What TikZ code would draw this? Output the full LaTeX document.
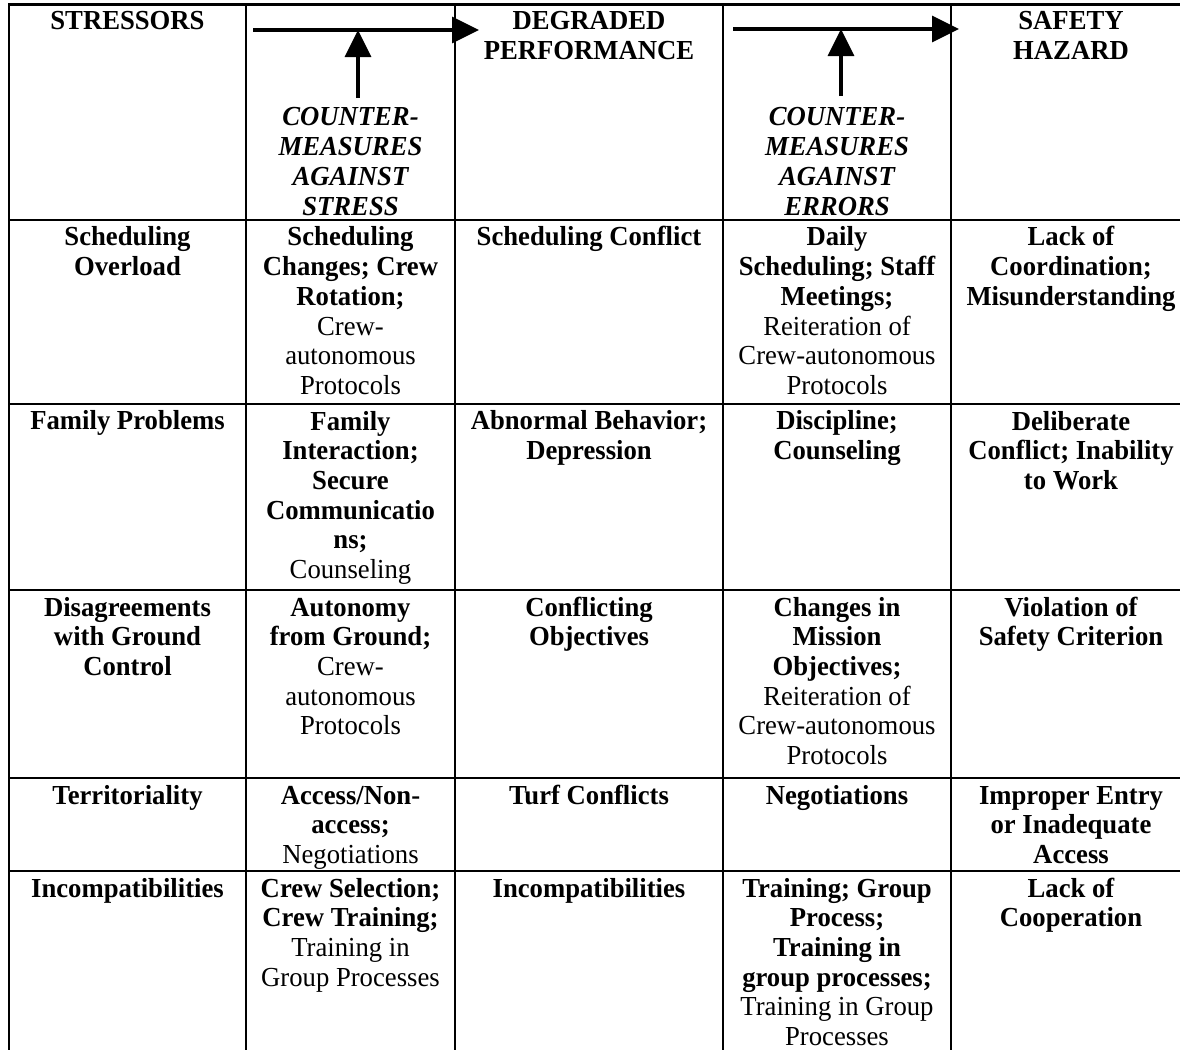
\documentclass[tikz,border=0pt]{standalone}
\usepackage{fontspec}
\setmainfont[FakeStretch=0.97]{Liberation Serif}
\usetikzlibrary{arrows.meta}
% a line set in the regular weight inside a bold cell
\newcommand{\regl}[1]{{\mdseries #1}}
\begin{document}
\begin{tikzpicture}[x=1pt,y=-1pt,
  rule/.style={line width=2pt},
  cell/.style={anchor=north, align=center, inner sep=0pt,
    font=\fontsize{27.5}{29.7}\selectfont\bfseries},
  hdr/.style={cell, font=\fontsize{27.5}{29.7}\selectfont\bfseries\itshape},
  flow/.style={line width=3.5pt, -{Triangle[length=27pt,width=26pt]}},
]
\useasboundingbox (0,0) rectangle (1180,1050);

% table rules
\foreach \x in {9,246,455,723,951}
  \draw[rule] (\x,3) -- (\x,1050);
\draw[line width=3pt] (8,4) -- (1180,4);
\foreach \y in {220,404,590,778,871}
  \draw[rule] (8,\y) -- (1180,\y);

% header row
\node[cell] (h1) at (127.5,8.5) {\strut STRESSORS};
\node[cell] (h3) at (589,8.5) {\strut DEGRADED\\PERFORMANCE};
\node[cell] (h5) at (1071,8.5) {\strut SAFETY\\HAZARD};
\node[hdr] (cm1) at (350.5,105) {\strut COUNTER-\\MEASURES\\AGAINST\\STRESS};
\node[hdr] (cm2) at (837,105) {\strut COUNTER-\\MEASURES\\AGAINST\\ERRORS};

% flow arrows
\coordinate (a1s) at (253,30);
\coordinate (a1e) at (479,30);
\coordinate (v1s) at (358,98);
\coordinate (a2s) at (733,29);
\coordinate (a2e) at (959,29);
\coordinate (v2s) at (841,96);
\draw[flow] (a1s) -- (a1e);
\draw[flow] (v1s) -- (v1s |- a1s);
\draw[flow] (a2s) -- (a2e);
\draw[flow] (v2s) -- (v2s |- a2s);

% row 1
\node[cell] (r1c1) at (127.5,225) {\strut Scheduling\\Overload};
\node[cell] (r1c2) at (350.5,225) {\strut Scheduling\\Changes; Crew\\Rotation;\\\regl{Crew-}\\\regl{autonomous}\\\regl{Protocols}};
\node[cell] (r1c3) at (589,225) {\strut Scheduling Conflict};
\node[cell] (r1c4) at (837,225) {\strut Daily\\Scheduling; Staff\\Meetings;\\\regl{Reiteration of}\\\regl{Crew-autonomous}\\\regl{Protocols}};
\node[cell] (r1c5) at (1071,225) {\strut Lack of\\Coordination;\\Misunderstanding};

% row 2
\node[cell] (r2c1) at (127.5,409) {\strut Family Problems};
\node[cell] (r2c2) at (350.5,409) {\strut Family\\Interaction;\\Secure\\Communicatio\\ns;\\\regl{Counseling}};
\node[cell] (r2c3) at (589,409) {\strut Abnormal Behavior;\\Depression};
\node[cell] (r2c4) at (837,409) {\strut Discipline;\\Counseling};
\node[cell] (r2c5) at (1071,409) {\strut Deliberate\\Conflict; Inability\\to Work};

% row 3
\node[cell] (r3c1) at (127.5,595) {\strut Disagreements\\with Ground\\Control};
\node[cell] (r3c2) at (350.5,595) {\strut Autonomy\\from Ground;\\\regl{Crew-}\\\regl{autonomous}\\\regl{Protocols}};
\node[cell] (r3c3) at (589,595) {\strut Conflicting\\Objectives};
\node[cell] (r3c4) at (837,595) {\strut Changes in\\Mission\\Objectives;\\\regl{Reiteration of}\\\regl{Crew-autonomous}\\\regl{Protocols}};
\node[cell] (r3c5) at (1071,595) {\strut Violation of\\Safety Criterion};

% row 4
\node[cell] (r4c1) at (127.5,783) {\strut Territoriality};
\node[cell] (r4c2) at (350.5,783) {\strut Access/Non-\\access;\\\regl{Negotiations}};
\node[cell] (r4c3) at (589,783) {\strut Turf Conflicts};
\node[cell] (r4c4) at (837,783) {\strut Negotiations};
\node[cell] (r4c5) at (1071,783) {\strut Improper Entry\\or Inadequate\\Access};

% row 5
\node[cell] (r5c1) at (127.5,876) {\strut Incompatibilities};
\node[cell] (r5c2) at (350.5,876) {\strut Crew Selection;\\Crew Training;\\\regl{Training in}\\\regl{Group Processes}};
\node[cell] (r5c3) at (589,876) {\strut Incompatibilities};
\node[cell] (r5c4) at (837,876) {\strut Training; Group\\Process;\\Training in\\group processes;\\\regl{Training in Group}\\\regl{Processes}};
\node[cell] (r5c5) at (1071,876) {\strut Lack of\\Cooperation};
\end{tikzpicture}
\end{document}
